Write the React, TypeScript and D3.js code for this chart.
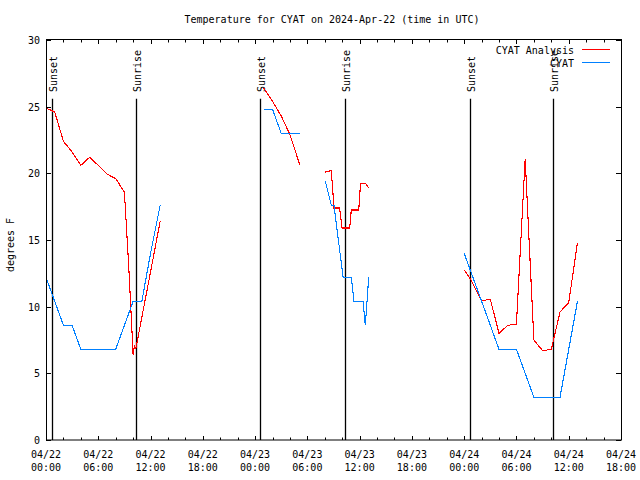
import React from "react";
import * as d3 from "d3";

const W = 640;
const H = 480;
const M = { left: 46, right: 621, top: 40, bottom: 440 };

const titleText = "Temperature for CYAT on 2024-Apr-22 (time in UTC)";
const yLabel = "degrees F";
const yTicks = [0, 5, 10, 15, 20, 25, 30];
const xMajorHours = [0, 6, 12, 18, 24, 30, 36, 42, 48, 54, 60, 66];
const xLabelDates = ["04/22", "04/22", "04/22", "04/22", "04/23", "04/23", "04/23", "04/23", "04/24", "04/24", "04/24", "04/24"];
const xLabelTimes = ["00:00", "06:00", "12:00", "18:00", "00:00", "06:00", "12:00", "18:00", "00:00", "06:00", "12:00", "18:00"];

const sunsetHours = [0.65, 24.56, 48.67];
const sunriseHours = [10.33, 34.35, 58.23];

// CYAT Analysis (red) — NaN marks gaps
const analysisHours = [
  0, 1, 2, 3, 4, 5, 6, 7, 8, 9, 9.5, 10, 10.15, 10.3, 11, 12, 13.1,
  NaN,
  25, 26, 27, 28, 29, 29.15,
  NaN,
  32.06, 32.75, 33.06, 33.7, 33.98, 34.86, 35.04, 35.9, 36.1, 36.7, 37.04,
  NaN,
  48, 48.7, 50, 51, 52, 53, 54, 55, 56, 57, 58, 59, 60, 61,
];
const analysisValues = [
  24.9, 24.6, 22.4, 21.6, 20.6, 21.2, 20.6, 19.95, 19.6, 18.6, 13.0, 6.4, 7.1, 6.8, 9.2, 12.6, 16.4,
  NaN,
  26.4, 25.4, 24.3, 22.9, 20.9, 20.6,
  NaN,
  20.1, 20.2, 17.4, 17.4, 15.9, 15.9, 17.25, 17.25, 19.25, 19.25, 18.9,
  NaN,
  12.75, 12.1, 10.45, 10.55, 8.0, 8.6, 8.7, 21.1, 7.5, 6.7, 6.8, 9.6, 10.3, 14.8,
];

// CYAT observations (blue)
const obsHours = [
  0, 1, 2, 3, 4, 5, 6, 7, 8, 9, 10, 11, 12, 13.1,
  NaN,
  25, 26, 27, 28, 29.15,
  NaN,
  32.06, 32.75, 33.06, 34.1, 35.04, 35.35, 36.39, 36.65, 37.04,
  NaN,
  48, 49, 50, 51, 52, 53, 54, 55, 56, 57, 58, 59, 60, 61,
];
const obsValues = [
  12.2, 10.4, 8.6, 8.6, 6.8, 6.8, 6.8, 6.8, 6.8, 8.6, 10.4, 10.4, 14.0, 17.6,
  NaN,
  24.8, 24.8, 23.0, 23.0, 23.0,
  NaN,
  19.4, 17.6, 17.6, 12.2, 12.2, 10.4, 10.4, 8.6, 12.2,
  NaN,
  14.0, 12.2, 10.4, 8.6, 6.8, 6.8, 6.8, 5.0, 3.2, 3.2, 3.2, 3.2, 6.8, 10.4,
];

const seriesNames = ["CYAT Analysis", "CYAT"];
const seriesColors = ["#ff0000", "#0080ff"];

const FONT = "'DejaVu Sans Mono', 'Liberation Mono', monospace";

export default function App() {
  const x = d3.scaleLinear().domain([0, 66]).range([M.left, M.right]);
  const y = d3.scaleLinear().domain([0, 30]).range([M.bottom, M.top]);

  const line = d3
    .line<[number, number]>()
    .defined((d) => !isNaN(d[0]) && !isNaN(d[1]))
    .x((d) => x(d[0]))
    .y((d) => y(d[1]));

  const analysisPts = analysisHours.map((h, i) => [h, analysisValues[i]] as [number, number]);
  const obsPts = obsHours.map((h, i) => [h, obsValues[i]] as [number, number]);

  const minorHours = d3.range(0, 67, 2).filter((h) => h % 6 !== 0);
  const sunTop = y(25.6);

  return (
    <svg width={W} height={H} style={{ display: "block", position: "absolute", left: 0, top: 0, background: "#fff" }}>
      <rect x={0} y={0} width={W} height={H} fill="#fff" />
      <text x={332} y={23} fontFamily={FONT} fontSize={10} textAnchor="middle" fill="#000">
        {titleText}
      </text>

      {/* y ticks */}
      {yTicks.map((t) => (
        <g key={"y" + t}>
          <line x1={M.left} x2={M.left + 5} y1={Math.round(y(t)) + 0.5} y2={Math.round(y(t)) + 0.5} stroke="#000" />
          <line x1={M.right - 5} x2={M.right} y1={Math.round(y(t)) + 0.5} y2={Math.round(y(t)) + 0.5} stroke="#000" />
          <text x={40} y={y(t) + 4} fontFamily={FONT} fontSize={10} textAnchor="end" fill="#000">
            {t}
          </text>
        </g>
      ))}

      {/* x major ticks */}
      {xMajorHours.map((h, i) => (
        <g key={"xm" + h}>
          <line x1={Math.round(x(h)) + 0.5} x2={Math.round(x(h)) + 0.5} y1={M.bottom} y2={M.bottom - 4} stroke="#000" />
          <line x1={Math.round(x(h)) + 0.5} x2={Math.round(x(h)) + 0.5} y1={M.top} y2={M.top + 4} stroke="#000" />
          <text x={x(h)} y={458} fontFamily={FONT} fontSize={10} textAnchor="middle" fill="#000">
            {xLabelDates[i]}
          </text>
          <text x={x(h)} y={471} fontFamily={FONT} fontSize={10} textAnchor="middle" fill="#000">
            {xLabelTimes[i]}
          </text>
        </g>
      ))}
      {minorHours.map((h) => (
        <g key={"xn" + h}>
          <line x1={Math.round(x(h)) + 0.5} x2={Math.round(x(h)) + 0.5} y1={M.bottom} y2={M.bottom - 2.5} stroke="#000" />
          <line x1={Math.round(x(h)) + 0.5} x2={Math.round(x(h)) + 0.5} y1={M.top} y2={M.top + 2.5} stroke="#000" />
        </g>
      ))}

      {/* y label */}
      <text
        x={14}
        y={245}
        transform="rotate(-90, 14, 245)"
        fontFamily={FONT}
        fontSize={10}
        textAnchor="middle"
        fill="#000"
      >
        {yLabel}
      </text>

      {/* sun lines */}
      {sunsetHours.map((h) => (
        <g key={"ss" + h}>
          <line x1={Math.round(x(h)) + 0.5} x2={Math.round(x(h)) + 0.5} y1={M.bottom} y2={sunTop} stroke="#000" strokeWidth={1.3} />
          <text
            x={x(h) + 5}
            y={92}
            transform={`rotate(-90, ${x(h) + 5}, 92)`}
            fontFamily={FONT}
            fontSize={10}
            fill="#000"
          >
            Sunset
          </text>
        </g>
      ))}
      {sunriseHours.map((h) => (
        <g key={"sr" + h}>
          <line x1={Math.round(x(h)) + 0.5} x2={Math.round(x(h)) + 0.5} y1={M.bottom} y2={sunTop} stroke="#000" strokeWidth={1.3} />
          <text
            x={x(h) + 5}
            y={92}
            transform={`rotate(-90, ${x(h) + 5}, 92)`}
            fontFamily={FONT}
            fontSize={10}
            fill="#000"
          >
            Sunrise
          </text>
        </g>
      ))}

      {/* data */}
      <path d={line(analysisPts) || ""} fill="none" stroke={seriesColors[0]} strokeWidth={1.1} shapeRendering="crispEdges" />
      <path d={line(obsPts) || ""} fill="none" stroke={seriesColors[1]} strokeWidth={1.1} shapeRendering="crispEdges" />

      {/* legend */}
      {seriesNames.map((name, i) => (
        <g key={name}>
          <text x={574} y={54 + i * 12.5} fontFamily={FONT} fontSize={10} textAnchor="end" fill="#000">
            {name}
          </text>
          <line x1={582} x2={610} y1={49.5 + i * 12.5} y2={49.5 + i * 12.5} stroke={seriesColors[i]} strokeWidth={1} shapeRendering="crispEdges" />
        </g>
      ))}

      {/* frame */}
      <rect x={M.left + 0.5} y={M.top - 0.5} width={M.right - M.left} height={M.bottom - M.top + 0.5} fill="none" stroke="#000" />
    </svg>
  );
}
